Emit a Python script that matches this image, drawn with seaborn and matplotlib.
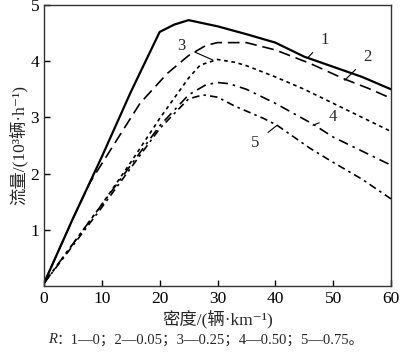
import pandas as pd
import numpy as np
import seaborn as sns
import matplotlib.pyplot as plt

# density (veh/km) and flow (10^3 veh/h), one curve per R
x1 = [0, 5, 10, 15, 20, 22.5, 25, 30, 35, 40, 45, 50, 55, 60]
y1 = [0.05, 1.2, 2.3, 3.45, 4.52, 4.65, 4.73, 4.62, 4.48, 4.33, 4.08, 3.9, 3.72, 3.5]
x2 = [0, 5, 8, 12.6, 16.6, 21.3, 25, 28, 30, 35, 40, 46, 52, 56, 60]
y2 = [0.05, 1.2, 1.85, 2.6, 3.25, 3.78, 4.1, 4.28, 4.33, 4.33, 4.2, 3.96, 3.68, 3.52, 3.34]
x3 = [0, 5, 10, 15, 20, 25, 27, 30, 33, 35, 40, 45, 50, 55, 60]
y3 = [0.05, 0.75, 1.45, 2.2, 2.98, 3.7, 3.93, 4.03, 3.98, 3.92, 3.72, 3.5, 3.25, 3.0, 2.75]
x4 = [0, 5, 10, 15, 20, 25, 28, 30, 32, 35, 40, 46.5, 50, 55, 60]
y4 = [0.05, 0.75, 1.45, 2.15, 2.85, 3.4, 3.58, 3.62, 3.6, 3.5, 3.25, 2.88, 2.65, 2.4, 2.15]
x5 = [0, 5, 10, 15, 20, 25, 27.5, 30, 33, 38, 40.3, 46, 50, 55, 60]
y5 = [0.05, 0.72, 1.4, 2.1, 2.8, 3.33, 3.4, 3.36, 3.2, 2.98, 2.86, 2.45, 2.2, 1.9, 1.55]
curve_names = ["1", "2", "3", "4", "5"]

df = pd.concat([
    pd.DataFrame({"density": xs, "flow": ys, "R": name})
    for name, xs, ys in zip(curve_names, [x1, x2, x3, x4, x5], [y1, y2, y3, y4, y5])
])

sns.set_style("ticks")
plt.rcParams['font.family'] = ['Liberation Serif', 'Noto Sans CJK SC', 'DejaVu Sans']

fig, ax = plt.subplots(figsize=(4.0, 3.54), dpi=100)
fig.subplots_adjust(left=0.11, right=0.9775, bottom=0.192, top=0.986)

dashes = {"1": "", "2": (7, 3.5), "3": (2.2, 2.2), "4": (6, 3, 1.5, 3), "5": (4.5, 2.5, 1.5, 2.5)}
sns.lineplot(data=df, x="density", y="flow", style="R", dashes=dashes,
             color="black", linewidth=1.2, legend=False, ax=ax, sort=False)
ax.lines[0].set_linewidth(1.6)

ax.set_xlim(0, 60)
ax.set_ylim(0, 5)
ax.set_xticks([0, 10, 20, 30, 40, 50, 60])
ax.set_yticks([1, 2, 3, 4, 5])
ax.tick_params(direction="in", length=4, width=1, labelsize=12.5, colors="black")
for s in ax.spines.values():
    s.set_linewidth(1.0)
    s.set_color("#333333")

ax.set_xlabel("密度/(辆·km⁻¹)", fontsize=12.5, labelpad=2)
ax.set_ylabel("流量/(10³辆·h⁻¹)", fontsize=12.5, labelpad=2)

# curve labels with leader lines
labels = [("1", (45.5, 4.05), (48.6, 4.38)),
          ("2", (52.0, 3.66), (56.0, 4.07)),
          ("3", (29.2, 4.02), (23.7, 4.27)),
          ("4", (46.5, 2.86), (50.0, 3.0)),
          ("5", (40.3, 2.86), (36.5, 2.55))]
for txt, pt, tp in labels:
    ax.annotate(txt, xy=pt, xytext=tp, fontsize=12, ha="center", va="center",
                arrowprops=dict(arrowstyle="-", color="black", lw=0.8, shrinkA=5, shrinkB=0))

# caption: italic R followed by the rest, centred as a whole
rest = fig.text(0.5, 0.04, "：1—0；2—0.05；3—0.25；4—0.50；5—0.75。", ha="left", va="center", fontsize=10.5)
r = fig.text(0.5, 0.04, "R", ha="right", va="center", fontsize=10.5, style="italic")
fig.canvas.draw()
rend = fig.canvas.get_renderer()
w_rest = rest.get_window_extent(rend).width / fig.bbox.width
w_r = r.get_window_extent(rend).width / fig.bbox.width
start = 0.515 - (w_rest + w_r) / 2
r.set_x(start + w_r)
rest.set_x(start + w_r)

plt.savefig("out.png", dpi=100)
